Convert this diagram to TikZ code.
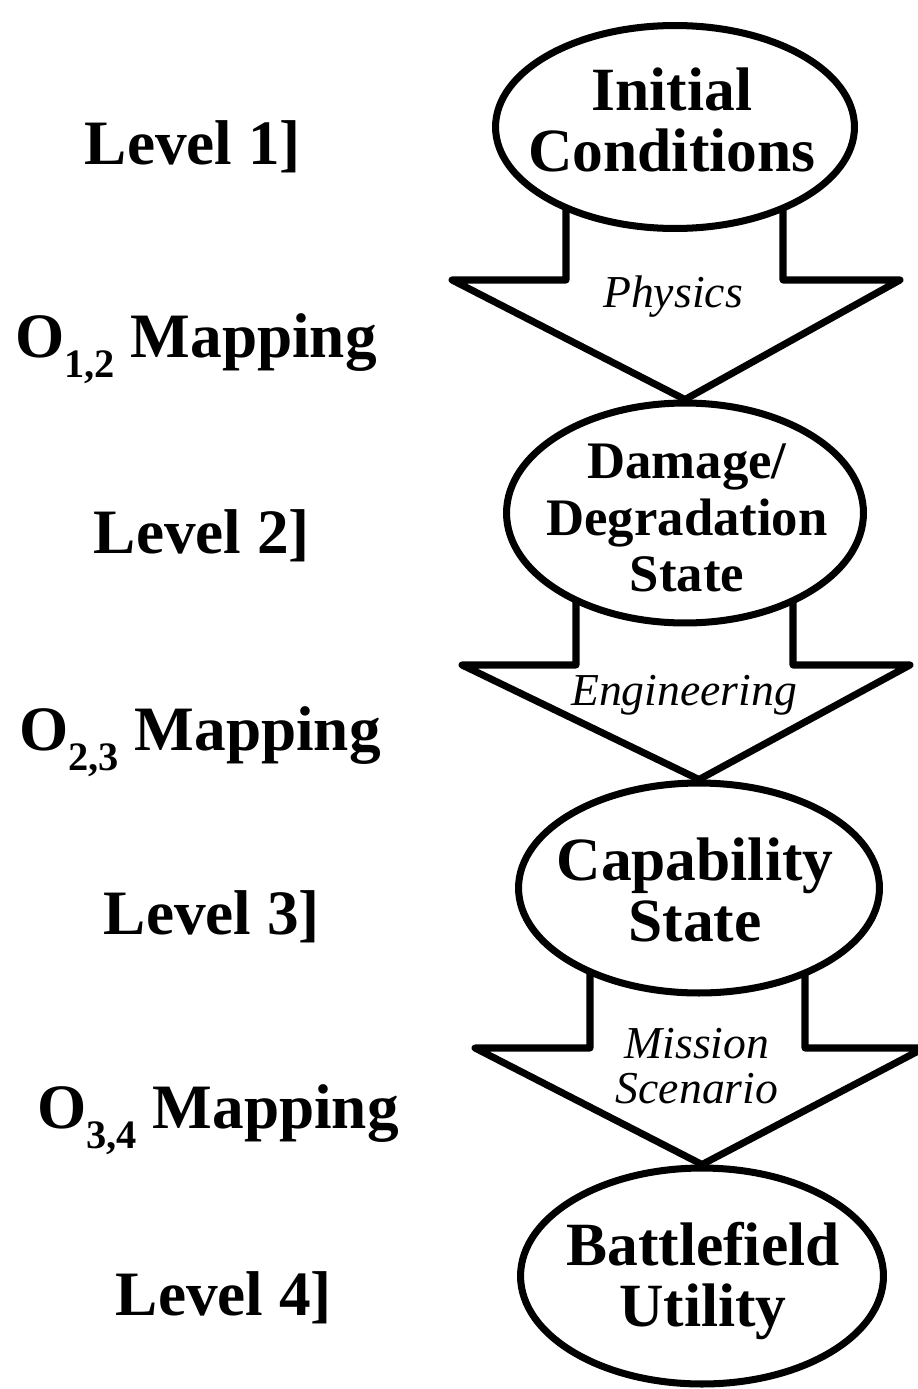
\documentclass[tikz,border=0pt]{standalone}
\usepackage{fontspec}
\setmainfont{Liberation Serif}
\usetikzlibrary{shapes.geometric, calc, backgrounds}

\begin{document}
\begin{tikzpicture}[
    x=0.02cm, y=-0.02cm,
    stage/.style={ellipse, draw, line width=4pt, fill=white, inner sep=0pt},
    stagetext/.style={align=center, inner sep=0pt, font=\fontsize{35}{35}\selectfont\bfseries},
    levellabel/.style={anchor=base, inner sep=0pt, font=\fontsize{36}{36}\selectfont\bfseries},
    process/.style={align=center, inner sep=0pt, font=\fontsize{26}{26}\selectfont\itshape},
    flow/.style={draw, line width=4pt, line join=round}
]
\useasboundingbox (0,0) rectangle (917,1389);

% Stages
\node[stage, minimum width=7.18cm, minimum height=4.06cm] (init) at (675,127) {};
\node[stage, minimum width=7.14cm, minimum height=4.4cm] (damage) at (685,513) {};
\node[stage, minimum width=7.22cm, minimum height=4.2cm] (capab) at (699,888) {};
\node[stage, minimum width=7.26cm, minimum height=4.32cm] (utility) at (702,1276) {};

\node[stagetext] (initlbl) at (672,120) {Initial\\Conditions};
\node[stagetext, font=\fontsize{30}{32}\selectfont\bfseries] (damagelbl) at (687,518) {Damage/\\Degradation\\State};
\node[stagetext] (capablbl) at (695,890) {Capability\\State};
\node[stagetext] (utilitylbl) at (703,1281) {Battlefield\\Utility};

% Block arrows (behind the stages)
\begin{scope}[on background layer]
\draw[flow] ($(init.center)+(-109,0)$) -- ($(init.center)+(-109,153)$) -- ($(init.center)+(-223,153)$)
    -- (damage.north) -- ($(init.center)+(225,153)$) -- ($(init.center)+(108,153)$) -- ($(init.center)+(108,0)$);
\draw[flow] ($(damage.center)+(-109,0)$) -- ($(damage.center)+(-109,152)$) -- ($(damage.center)+(-223,152)$)
    -- (capab.north) -- ($(damage.center)+(225,152)$) -- ($(damage.center)+(108,152)$) -- ($(damage.center)+(108,0)$);
\draw[flow] ($(capab.center)+(-109,0)$) -- ($(capab.center)+(-109,160)$) -- ($(capab.center)+(-224,160)$)
    -- (utility.north) -- ($(capab.center)+(225,160)$) -- ($(capab.center)+(106,160)$) -- ($(capab.center)+(106,0)$);
\end{scope}

\node[process, anchor=base] (physics) at (673,307) {Physics};
\node[process, anchor=base] (engineering) at (684,705) {Engineering};
\node[process] (mission) at (697,1066) {Mission\\Scenario};

% Levels and mappings
\node[levellabel] (lev1) at (193,164) {Level 1]};
\node[levellabel] (map12) at (196,357) {O\raisebox{-0.32em}{\fontsize{23}{23}\selectfont 1,2} Mapping};
\node[levellabel] (lev2) at (202,553) {Level 2]};
\node[levellabel] (map23) at (200,750) {O\raisebox{-0.32em}{\fontsize{23}{23}\selectfont 2,3} Mapping};
\node[levellabel] (lev3) at (212,934) {Level 3]};
\node[levellabel] (map34) at (218,1128) {O\raisebox{-0.32em}{\fontsize{23}{23}\selectfont 3,4} Mapping};
\node[levellabel] (lev4) at (224,1315) {Level 4]};

\end{tikzpicture}
\end{document}
